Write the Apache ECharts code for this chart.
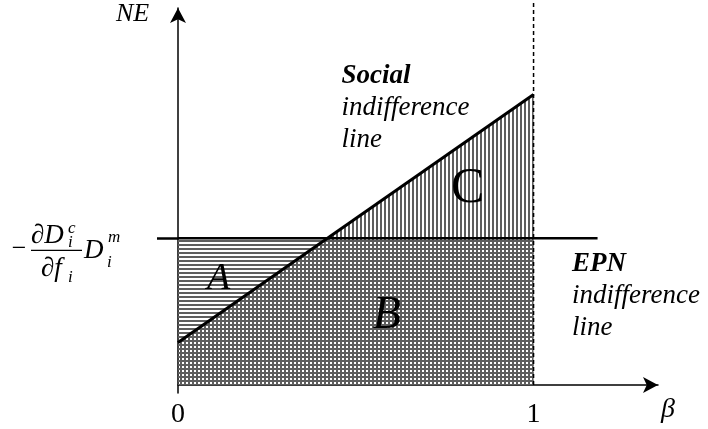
<!DOCTYPE html>
<html>
<head>
<meta charset="utf-8">
<script src="https://cdn.jsdelivr.net/npm/echarts@6/dist/echarts.min.js"></script>
<style>
html, body { margin: 0; padding: 0; background: #fff; }
#chart { width: 708px; height: 429px; }
</style>
</head>
<body>
<div id="chart"></div>
<script>
// values (y in units of the EPN level)
const betaTicks = [0, 1];
const betaSpan = [0, 1];
const epnLevel = 1;
const epnLineX = [0, 1.18];
const socialY = [0.29, 1.98];      // social indifference line at beta = 0 and beta = 1
const regionNames = ['A', 'B', 'C'];

const serif = '"Liberation Serif", "Times New Roman", serif';

// small hatch tiles for the shaded regions
function hatch(dir) {
  const c = document.createElement('canvas');
  c.width = 4; c.height = 4;
  const g = c.getContext('2d');
  g.fillStyle = '#5e5e5e';
  if (dir === 'h') g.fillRect(0, 0, 4, 2);
  else g.fillRect(0, 0, 2, 4);
  return c;
}

const chart = echarts.init(document.getElementById('chart'));

const epnPts = [[betaSpan[0], epnLevel], [betaSpan[1], epnLevel]];
const socialPts = [[betaSpan[0], socialY[0]], [betaSpan[1], socialY[1]]];

chart.setOption({
  animation: false,
  grid: { left: 178, right: 50, top: 8, bottom: 33 },
  xAxis: {
    type: 'value', min: 0, max: 1.35,
    splitLine: { show: false },
    axisLine: { onZero: true, symbol: ['none', 'arrow'], symbolSize: [12, 15],
      lineStyle: { color: '#000', width: 1.5 } },
    axisTick: { show: false },
    axisLabel: { customValues: betaTicks, color: '#000', fontFamily: serif, fontSize: 28, margin: 8 }
  },
  yAxis: {
    type: 'value', min: -0.054, max: 2.57,
    splitLine: { show: false },
    axisLine: { onZero: true, symbol: ['none', 'arrow'], symbolSize: [12, 15],
      lineStyle: { color: '#000', width: 1.5 } },
    // the EPN level is marked on the NE axis by a tick reaching out to its label
    axisTick: { customValues: [epnLevel], length: 21, lineStyle: { color: '#000', width: 2.5 } },
    axisLabel: { show: false }
  },
  series: [
    { // below the EPN line: horizontal hatching
      type: 'line', data: epnPts, symbol: 'none', z: 1,
      lineStyle: { width: 0 },
      areaStyle: { color: { image: hatch('h'), repeat: 'repeat' }, opacity: 1 }
    },
    { // below the social line: vertical hatching
      type: 'line', data: socialPts, symbol: 'none', z: 1,
      lineStyle: { width: 0 },
      areaStyle: { color: { image: hatch('v'), repeat: 'repeat' }, opacity: 1 }
    },
    {
      type: 'line', data: epnLineX.map(x => [x, epnLevel]), symbol: 'none', z: 5,
      lineStyle: { color: '#000', width: 2.5 }
    },
    {
      type: 'line', data: socialPts, symbol: 'none', z: 5,
      lineStyle: { color: '#000', width: 3 }
    },
    {
      type: 'line', data: [[betaSpan[1], 0], [betaSpan[1], 2.64]], symbol: 'none', z: 4, clip: false,
      lineStyle: { color: '#000', width: 1.5, type: [4, 3] }
    }
  ]
});

const P = (x, y) => chart.convertToPixel({ gridIndex: 0 }, [x, y]);

function txt(p, dx, dy, text, size, extra) {
  return {
    type: 'text', x: p[0] + dx, y: p[1] + dy, z: 10,
    style: Object.assign({
      text: text, fontFamily: serif, fontSize: size, fontStyle: 'italic',
      fill: '#000', align: 'left', verticalAlign: 'middle'
    }, extra || {})
  };
}

const a0 = P(0, epnLevel);
const yTop = P(0, 2.57);
const xEnd = P(1.35, 0);
const socialAt = P(0.46, 2.108);
const epnAt = P(1.108, 0.828);

const graphics = [
  // -dD_i^c/df_i D_i^m
  txt(a0, -159, 11, '\u2212', 26, { fontStyle: 'normal', align: 'center' }),
  txt(a0, -147, -2, '\u2202D', 27),
  txt(a0, -110, -10, 'c', 17),
  txt(a0, -110, 4, 'i', 17),
  { type: 'line', z: 10, shape: { x1: a0[0] - 147, y1: a0[1] + 12, x2: a0[0] - 96, y2: a0[1] + 12 },
    style: { stroke: '#000', lineWidth: 1.3 } },
  txt(a0, -137, 31, '\u2202f', 27),
  txt(a0, -110, 39, 'i', 17),
  txt(a0, -94, 12.5, 'D', 27),
  txt(a0, -70, -1, 'm', 17),
  txt(a0, -71, 24, 'i', 17),
  // axis names
  txt(yTop, -45.5, 6, 'NE', 26, { align: 'center' }),
  txt(xEnd, 10, 25, '\u03b2', 28, { align: 'center' }),
  // line captions
  txt(socialAt, 0, 0, 'Social', 27, { fontWeight: 'bold' }),
  txt(socialAt, 0, 32, 'indifference', 27),
  txt(socialAt, 0, 64, 'line', 27),
  txt(epnAt, 0, 0, 'EPN', 27, { fontWeight: 'bold' }),
  txt(epnAt, 0, 32, 'indifference', 27),
  txt(epnAt, 0, 64, 'line', 27)
];

// region letters
const letterPos = [[0.114, 0.723], [0.587, 0.473], [0.815, 1.338]];
const letterSize = [38, 46, 50];
regionNames.forEach((n, i) => {
  graphics.push(txt(P(letterPos[i][0], letterPos[i][1]), 0, 0, n, letterSize[i],
    { align: 'center', fontStyle: n === 'C' ? 'normal' : 'italic' }));
});

chart.setOption({ graphic: graphics });
</script>
</body>
</html>
